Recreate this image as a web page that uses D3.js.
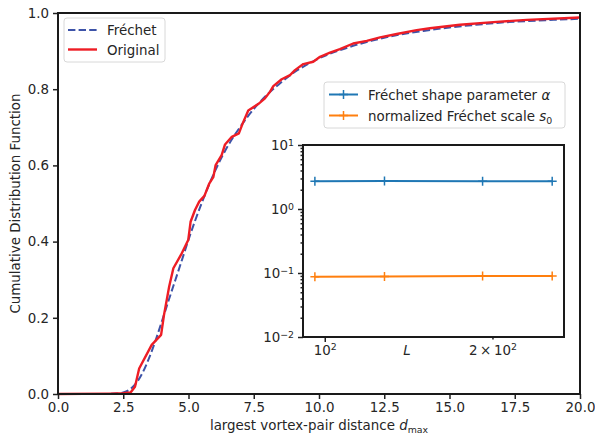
<!DOCTYPE html>
<html><head><meta charset="utf-8">
<script src="https://cdn.jsdelivr.net/npm/d3@7"></script>
<style>
body{margin:0;background:#fff;}
svg{display:block;font-family:"DejaVu Sans",sans-serif;}
</style></head>
<body><svg id="c" width="595" height="434"></svg>
<script>
// ---- data ----
const origD = [0, 2.0, 2.5, 2.78, 2.95, 3.11, 3.59, 3.95, 4.06, 4.26, 4.42, 4.71, 4.99, 5.08, 5.25, 5.41, 5.61, 5.80, 5.95, 6.04, 6.27, 6.40, 6.66, 6.93, 7.08, 7.29, 7.67, 7.93, 8.12, 8.25, 8.57, 8.89, 9.08, 9.40, 9.78, 10.04, 10.42, 10.80, 11.31, 11.83, 12.34, 12.98, 13.74, 14.25, 15.40, 16.68, 17.96, 20.0];
const origF = [0, 0.001, 0.002, 0.004, 0.019, 0.067, 0.129, 0.155, 0.207, 0.282, 0.330, 0.365, 0.404, 0.452, 0.483, 0.505, 0.520, 0.553, 0.569, 0.601, 0.627, 0.655, 0.675, 0.684, 0.711, 0.744, 0.761, 0.776, 0.793, 0.808, 0.826, 0.837, 0.850, 0.866, 0.872, 0.885, 0.896, 0.905, 0.920, 0.927, 0.936, 0.945, 0.955, 0.960, 0.969, 0.976, 0.982, 0.988];
const frechD = [0, 1.5, 2.0, 2.25, 2.5, 2.75, 3.0, 3.25, 3.5, 3.75, 4.0, 4.25, 4.5, 4.75, 5.0, 5.5, 6.0, 6.5, 7.0, 7.5, 8.0, 8.5, 9.0, 9.5, 10, 11, 12, 13, 14, 15, 16, 17, 18, 19, 20];
const frechF = [0, 0, 0.0004, 0.001, 0.004, 0.012, 0.029, 0.057, 0.096, 0.143, 0.195, 0.248, 0.300, 0.352, 0.405, 0.500, 0.583, 0.650, 0.703, 0.748, 0.785, 0.815, 0.842, 0.863, 0.881, 0.907, 0.927, 0.942, 0.953, 0.962, 0.969, 0.975, 0.979, 0.982, 0.985];
const xTicks = [0, 2.5, 5, 7.5, 10, 12.5, 15, 17.5, 20];
const yTicks = [0, 0.2, 0.4, 0.6, 0.8, 1.0];
// inset
const sizesL = [96, 128, 192, 256];
const shapeAlpha = [2.72, 2.73, 2.72, 2.72];
const scaleS0 = [0.087, 0.088, 0.090, 0.090];
const insetYMajor = [0.01, 0.1, 1, 10];
const insetYExp = ["\u22122", "\u22121", "0", "1"];

const FONT = 13.4, TXT = "#262626", SUP = "9.4px";
const svg = d3.select("#c");
const M = {l: 58, r: 580, t: 13, b: 394};
const x = d3.scaleLinear([0, 20], [M.l, M.r]);
const y = d3.scaleLinear([0, 1], [M.b, M.t]);

// lines
svg.append("path").datum(frechD.map((d, i) => [d, frechF[i]]))
  .attr("d", d3.line().x(d => x(d[0])).y(d => y(d[1])).curve(d3.curveMonotoneX)).attr("fill", "none")
  .attr("stroke", "#3d53a8").attr("stroke-width", 2).attr("stroke-dasharray", "7.4 3.2");
svg.append("path").datum(origD.map((d, i) => [d, origF[i]]))
  .attr("d", d3.line().x(d => x(d[0])).y(d => y(d[1]))).attr("fill", "none")
  .attr("stroke", "#ee1d25").attr("stroke-width", 2.4).attr("stroke-linejoin", "round");

// axes
function styleAxis(g) {
  g.select(".domain").remove();
  g.selectAll(".tick line").attr("stroke", "#222").attr("stroke-width", 1.5);
  g.selectAll(".tick text").attr("fill", TXT).style("font-size", FONT + "px").style("font-family", "DejaVu Sans");
}
svg.append("g").attr("transform", `translate(0,${M.b})`)
  .call(d3.axisBottom(x).tickValues(xTicks).tickFormat(d3.format(".1f")).tickSize(5).tickPadding(3))
  .call(styleAxis);
svg.append("g").attr("transform", `translate(${M.l},0)`)
  .call(d3.axisLeft(y).tickValues(yTicks).tickFormat(d3.format(".1f")).tickSize(5).tickPadding(4))
  .call(styleAxis);
// frame
svg.append("rect").attr("x", M.l).attr("y", M.t).attr("width", M.r - M.l).attr("height", M.b - M.t)
  .attr("fill", "none").attr("stroke", "#1a1a1a").attr("stroke-width", 2);

// axis labels
const xl = svg.append("text").attr("x", (M.l + M.r) / 2).attr("y", 430).attr("text-anchor", "middle")
  .attr("fill", TXT).style("font-size", FONT + "px");
xl.append("tspan").text("largest vortex-pair distance ");
xl.append("tspan").attr("font-style", "italic").text("d");
xl.append("tspan").attr("dy", 3).style("font-size", SUP).text("max");
svg.append("text").attr("transform", `translate(20,${(M.t + M.b) / 2}) rotate(-90)`)
  .attr("text-anchor", "middle").attr("fill", TXT).style("font-size", FONT + "px")
  .text("Cumulative Distribution Function");

// main legend
const lg = svg.append("g");
lg.append("rect").attr("x", 64).attr("y", 18).attr("width", 101).attr("height", 44).attr("rx", 3)
  .attr("fill", "#fff").attr("fill-opacity", 0.8).attr("stroke", "#d8d8d8");
lg.append("line").attr("x1", 68).attr("x2", 97).attr("y1", 30).attr("y2", 30)
  .attr("stroke", "#3d53a8").attr("stroke-width", 2).attr("stroke-dasharray", "7.4 3.2");
lg.append("line").attr("x1", 68).attr("x2", 97).attr("y1", 49.5).attr("y2", 49.5)
  .attr("stroke", "#ee1d25").attr("stroke-width", 2.4);
lg.append("text").attr("x", 107).attr("y", 35).attr("fill", TXT).style("font-size", FONT + "px").text("Fréchet");
lg.append("text").attr("x", 107).attr("y", 54.5).attr("fill", TXT).style("font-size", FONT + "px").text("Original");

// inset
const I = {l: 303, r: 564, t: 145, b: 337};
svg.append("rect").attr("x", I.l).attr("y", I.t).attr("width", I.r - I.l).attr("height", I.b - I.t).attr("fill", "#fff");
const ix = d3.scaleLog([91.4, 268.8], [I.l, I.r]);
const iy = d3.scaleLog([0.01, 10], [I.b, I.t]);

function plus(g, pts, color) {
  pts.forEach(p => {
    g.append("path").attr("d", `M${p[0] - 4.5},${p[1]}H${p[0] + 4.5}M${p[0]},${p[1] - 4.5}V${p[1] + 4.5}`)
      .attr("stroke", color).attr("stroke-width", 1.5);
  });
}
const ig = svg.append("g");
[[shapeAlpha, "#1f77b4"], [scaleS0, "#ff7f0e"]].forEach(([vals, col]) => {
  const pts = sizesL.map((L, i) => [ix(L), iy(vals[i])]);
  ig.append("path").attr("d", d3.line()(pts)).attr("fill", "none").attr("stroke", col).attr("stroke-width", 2);
  plus(ig, pts, col);
});

// inset y axis
const minorY = [];
[0.01, 0.1, 1].forEach(dec => { for (let k = 2; k <= 9; k++) minorY.push(dec * k); });
svg.append("g").attr("transform", `translate(${I.l},0)`)
  .call(d3.axisLeft(iy).tickValues(minorY).tickSize(2.5).tickFormat(""))
  .call(styleAxis);
const yax = svg.append("g").attr("transform", `translate(${I.l},0)`)
  .call(d3.axisLeft(iy).tickValues(insetYMajor).tickSize(5).tickPadding(4).tickFormat(""))
  .call(styleAxis);
yax.selectAll(".tick text").each(function(d, i) {
  const t = d3.select(this).attr("dy", "0.36em");
  t.append("tspan").text("10");
  t.append("tspan").attr("dy", "-0.45em").style("font-size", SUP).text(insetYExp[i]);
});
// inset x axis
const xax = svg.append("g").attr("transform", `translate(0,${I.b})`)
  .call(d3.axisBottom(ix).tickValues([100]).tickSize(5).tickPadding(3).tickFormat(""))
  .call(styleAxis);
xax.selectAll(".tick text").each(function() {
  const t = d3.select(this);
  t.append("tspan").text("10");
  t.append("tspan").attr("dy", "-0.45em").style("font-size", SUP).text("2");
});
const xax2 = svg.append("g").attr("transform", `translate(0,${I.b})`)
  .call(d3.axisBottom(ix).tickValues([200]).tickSize(2.5).tickPadding(5.5).tickFormat(""))
  .call(styleAxis);
xax2.selectAll(".tick text").each(function() {
  const t = d3.select(this);
  t.append("tspan").text("2\u2009\u00d7\u200910");
  t.append("tspan").attr("dy", "-0.45em").style("font-size", SUP).text("2");
});
svg.append("text").attr("x", 407).attr("y", 355).attr("text-anchor", "middle").attr("fill", TXT)
  .attr("font-style", "italic").style("font-size", FONT + "px").text("L");
svg.append("rect").attr("x", I.l).attr("y", I.t).attr("width", I.r - I.l).attr("height", I.b - I.t)
  .attr("fill", "none").attr("stroke", "#1a1a1a").attr("stroke-width", 2);

// inset legend
const lg2 = svg.append("g");
lg2.append("rect").attr("x", 324).attr("y", 82).attr("width", 241).attr("height", 46).attr("rx", 3)
  .attr("fill", "#fff").attr("fill-opacity", 0.8).attr("stroke", "#d8d8d8");
[["#1f77b4", 94.5], ["#ff7f0e", 115.5]].forEach(([c, yy]) => {
  lg2.append("line").attr("x1", 329).attr("x2", 358).attr("y1", yy).attr("y2", yy).attr("stroke", c).attr("stroke-width", 2);
  plus(lg2, [[343.5, yy]], c);
});
const t1 = lg2.append("text").attr("x", 368).attr("y", 99.5).attr("fill", TXT).style("font-size", FONT + "px");
t1.append("tspan").text("Fréchet shape parameter ");
t1.append("tspan").attr("font-style", "italic").text("α");
const t2 = lg2.append("text").attr("x", 368).attr("y", 120.5).attr("fill", TXT).style("font-size", FONT + "px");
t2.append("tspan").text("normalized Fréchet scale ");
t2.append("tspan").attr("font-style", "italic").text("s");
t2.append("tspan").attr("dy", 3).style("font-size", SUP).text("0");
</script></body></html>
